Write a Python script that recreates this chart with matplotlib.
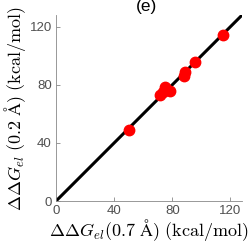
import matplotlib
matplotlib.use("Agg")
import matplotlib.pyplot as plt
import numpy as np

# free energies (kcal/mol) at two grid spacings
dg_07 = [50.0, 71.6, 73.3, 75.1, 78.6, 87.9, 88.8, 95.9, 114.9]
dg_02 = [49.0, 72.7, 75.0, 78.4, 75.6, 86.4, 88.7, 95.5, 114.5]
ticks = [0, 40, 80, 120]
lim = [0, 128]

plt.rcParams["mathtext.fontset"] = "cm"

fig = plt.figure(figsize=(2.5, 2.44), dpi=100)
ax = fig.add_axes([0.224, 0.176, 0.744, 0.762])

ax.plot(lim, lim, color="black", lw=2.2, zorder=2)
ax.plot(dg_07, dg_02, "o", color="#ff0000", ms=7.5, mec="#ff0000", zorder=3)

ax.set_xlim(lim)
ax.set_ylim(lim)
ax.set_xticks(ticks)
ax.set_yticks(ticks)
for side in ["top", "right"]:
    ax.spines[side].set_visible(False)
for side in ["left", "bottom"]:
    ax.spines[side].set_color("#888888")
    ax.spines[side].set_linewidth(0.6)
ax.tick_params(direction="in", length=3, width=0.6, color="#888888",
               labelcolor="#505050", labelsize=9.5, pad=3)
for lab in ax.get_xticklabels() + ax.get_yticklabels():
    lab.set_family("Liberation Sans")

ax.set_xlabel(r"$\Delta\Delta G_{el}(0.7\ \mathrm{Å})\ \mathrm{(kcal/mol)}$",
              fontsize=13, labelpad=0)
ax.set_ylabel(r"$\Delta\Delta G_{el}\ (0.2\ \mathrm{Å})\ \mathrm{(kcal/mol)}$",
              fontsize=13, labelpad=1)

fig.text(0.586, 1.005, "(e)", ha="center", va="top", fontsize=12.5,
         family="Liberation Sans")

fig.savefig("out.png", dpi=100)
